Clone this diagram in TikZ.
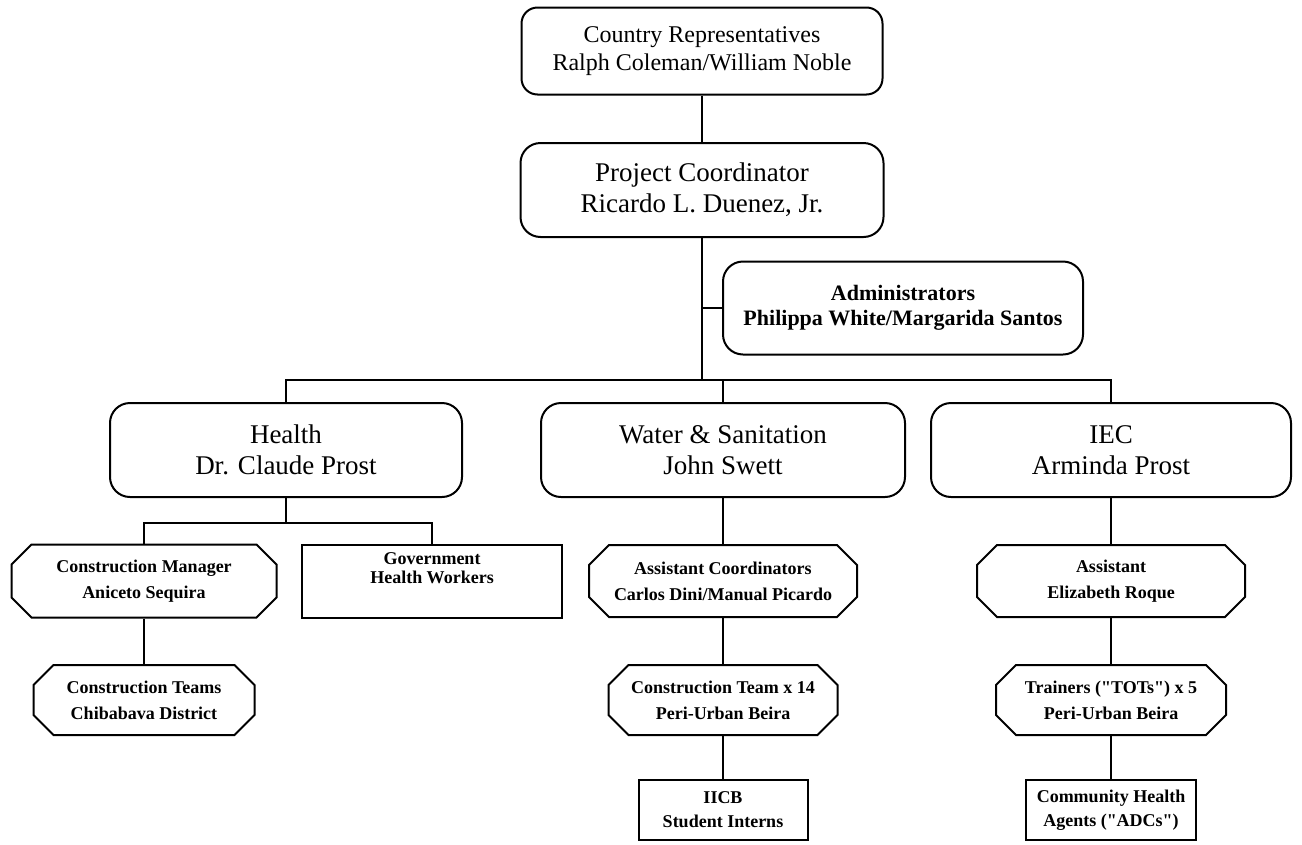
\documentclass[tikz,border=0pt]{standalone}
\usepackage{fontspec}
\setmainfont{Liberation Serif}
\usetikzlibrary{shapes.misc,positioning}

\begin{document}
\begin{tikzpicture}[x=1pt, y=-1pt, line width=2pt,
    every node/.style={align=center, inner sep=0pt},
    repbox/.style={draw, rounded corners=16pt, font=\fontsize{24}{28}\selectfont},
    bigbox/.style={draw, rounded corners=20pt, minimum height=94pt, font=\fontsize{27}{31}\selectfont},
    adminbox/.style={draw, rounded corners=20pt, font=\bfseries\fontsize{22}{25}\selectfont},
    octbox/.style={draw, chamfered rectangle, chamfered rectangle xsep=10pt, chamfered rectangle ysep=10pt, font=\bfseries\fontsize{18}{26}\selectfont},
    plainbox/.style={draw, rectangle, font=\bfseries\fontsize{18}{24}\selectfont}]
  \useasboundingbox (0,0) rectangle (1302,844);
  % top of the chart
  \node[repbox, minimum width=361pt, minimum height=87pt] (rep) at (702,51) {Country Representatives\\Ralph Coleman/William Noble};
  \node[bigbox, minimum width=363pt] (coord) at (702,190) {Project Coordinator\\Ricardo L. Duenez, Jr.};
  \node[adminbox, minimum width=360pt, minimum height=93pt] (admin) at (903,308) {Administrators\\Philippa White/Margarida Santos};
  % the three units
  \node[bigbox, minimum width=352pt] (health) at (286,450) {Health\\Dr. Claude Prost};
  \node[bigbox, minimum width=364pt] (water) at (723,450) {Water \& Sanitation\\John Swett};
  \node[bigbox, minimum width=360pt] (iec) at (1111,450) {IEC\\Arminda Prost};
  % staff under each unit
  \node[octbox, minimum width=265pt, minimum height=73pt] (conman) at (144,581) {Construction Manager\\Aniceto Sequira};
  \node[plainbox, minimum width=260pt, minimum height=73pt,
    label={[name=govtext, anchor=north, yshift=-8pt, font=\bfseries\fontsize{18}{19}\selectfont, align=center]north:{Government\\Health Workers}}] (gov) at (432,581) {};
  \node[octbox, minimum width=268pt, minimum height=72pt] (asstco) at (723,581) {Assistant Coordinators\\Carlos Dini/Manual Picardo};
  \node[octbox, minimum width=268pt, minimum height=72pt] (asst) at (1111,581) {Assistant\\Elizabeth Roque};
  \node[octbox, minimum width=221pt, minimum height=70pt] (cteams) at (144,700) {Construction Teams\\Chibabava District};
  \node[octbox, minimum width=229pt, minimum height=70pt] (cteam14) at (723,700) {Construction Team x 14\\Peri-Urban Beira};
  \node[octbox, minimum width=230pt, minimum height=70pt] (trainers) at (1111,700) {Trainers (\textquotedbl TOTs\textquotedbl) x 5\\Peri-Urban Beira};
  \node[plainbox, minimum width=169pt, minimum height=60pt] (iicb) at (723,810) {IICB\\Student Interns};
  \node[plainbox, minimum width=170pt, minimum height=60pt] (agents) at (1111,810) {Community Health\\Agents (\textquotedbl ADCs\textquotedbl)};
  % connectors
  \coordinate (bar) at (702,380);
  \coordinate (hbar) at (286,523);
  \draw (rep.south) -- (coord.north);
  \draw (coord.south) -- (bar);
  \draw (coord.south |- admin.west) -- (admin.west);
  \draw (health.north) -- (health.north |- bar) -- (iec.north |- bar) -- (iec.north);
  \draw (water.north |- bar) -- (water.north);
  \draw (health.south) -- (hbar);
  \draw (conman.north) -- (conman.north |- hbar) -- (gov.north |- hbar) -- (gov.north);
  \foreach \a/\b in {water/asstco, asstco/cteam14, cteam14/iicb, iec/asst, asst/trainers, trainers/agents, conman/cteams}
    \draw (\a.south) -- (\b.north);
\end{tikzpicture}
\end{document}
